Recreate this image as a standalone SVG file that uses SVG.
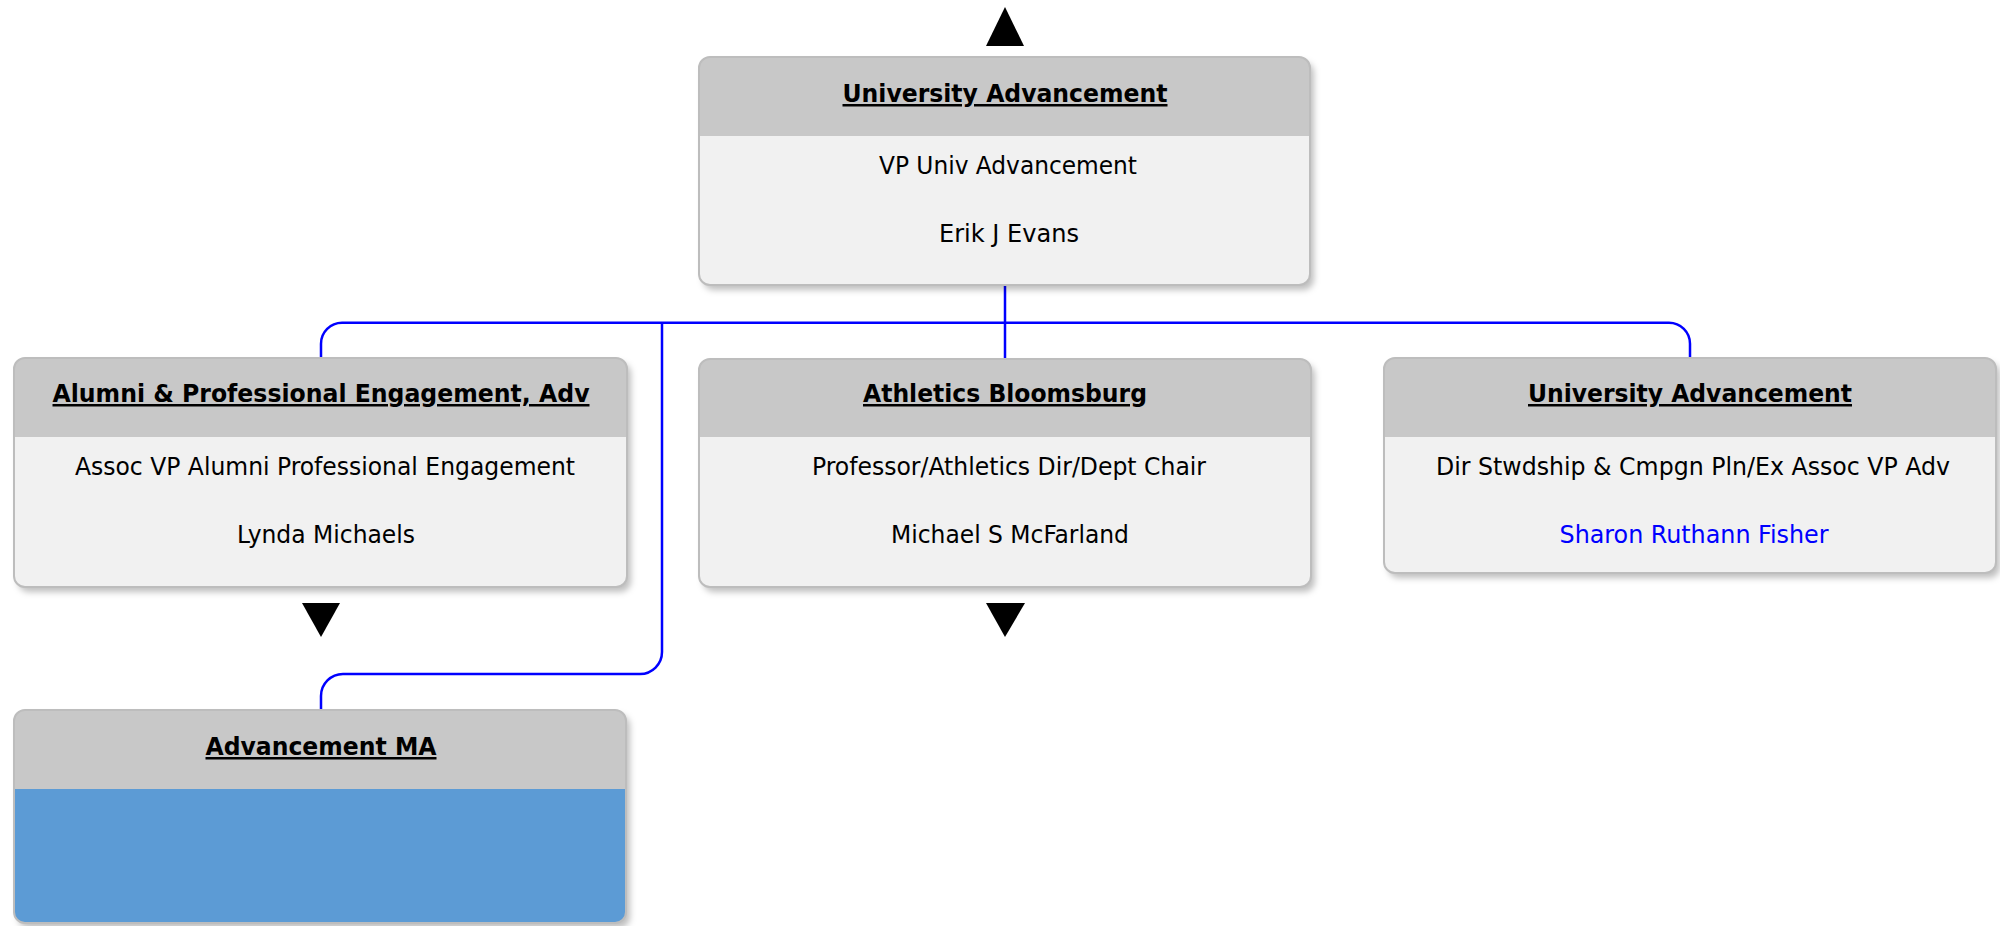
<svg xmlns="http://www.w3.org/2000/svg" width="2000" height="926" viewBox="0 0 2000 926">
<style>
.body{fill:#F1F1F1}
.head{fill:#C8C8C8}
.frame{fill:none;stroke:#BDBDBD;stroke-width:2}
.title{font-family:"DejaVu Sans Condensed","DejaVu Sans",sans-serif;font-weight:bold;font-size:25px;fill:#000;text-anchor:middle;text-decoration:underline}
.txt{font-family:"DejaVu Sans Condensed","DejaVu Sans",sans-serif;font-size:25px;fill:#000;text-anchor:middle}
.link{fill:#0000FF}
.conn{fill:none;stroke:#0000FF;stroke-width:2.5}
.arrow{fill:#000}
</style>
<defs>
<filter id="sh" x="-5%" y="-5%" width="115%" height="120%">
<feDropShadow dx="4" dy="5" stdDeviation="3" flood-color="#000" flood-opacity="0.25"/>
</filter>
</defs>
<g id="connectors">
<path class="conn" d="M1005,286 V359"/>
<path class="conn" d="M1005,322.7 H342 A21,21 0 0 0 321,343.7 V358"/>
<path class="conn" d="M1005,322.7 H1669 A21,21 0 0 1 1690,343.7 V358"/>
<path class="conn" d="M662,322.7 V652 A22,22 0 0 1 640,674 H343 A22,22 0 0 0 321,696 V710"/>
</g>
<g id="arrow-up"><polygon class="arrow" points="1005,7 986,46 1024,46"/></g>
<g id="node-top">
<rect x="699" y="57" width="611" height="228" rx="11" class="body" filter="url(#sh)"/>
<path class="head" d="M699,136 V68 A11,11 0 0 1 710,57 H1299 A11,11 0 0 1 1310,68 V136 Z"/>
<rect x="699" y="57" width="611" height="228" rx="11" class="frame"/>
<text class="title" x="1005" y="102" textLength="325" lengthAdjust="spacingAndGlyphs">University Advancement</text>
<text class="txt" x="1008" y="174" textLength="258" lengthAdjust="spacingAndGlyphs">VP Univ Advancement</text>
<text class="txt" x="1009" y="242" textLength="140" lengthAdjust="spacingAndGlyphs">Erik J Evans</text>
</g>
<g id="node-alumni">
<rect x="14" y="358" width="613" height="229" rx="11" class="body" filter="url(#sh)"/>
<path class="head" d="M14,437 V369 A11,11 0 0 1 25,358 H616 A11,11 0 0 1 627,369 V437 Z"/>
<rect x="14" y="358" width="613" height="229" rx="11" class="frame"/>
<text class="title" x="321" y="402" textLength="537" lengthAdjust="spacingAndGlyphs">Alumni &amp; Professional Engagement, Adv</text>
<text class="txt" x="325" y="475" textLength="500" lengthAdjust="spacingAndGlyphs">Assoc VP Alumni Professional Engagement</text>
<text class="txt" x="326" y="543" textLength="178" lengthAdjust="spacingAndGlyphs">Lynda Michaels</text>
</g>
<g id="arrow-alumni"><polygon class="arrow" points="302,603 340,603 321,637"/></g>
<g id="node-athletics">
<rect x="699" y="359" width="612" height="228" rx="11" class="body" filter="url(#sh)"/>
<path class="head" d="M699,437 V370 A11,11 0 0 1 710,359 H1300 A11,11 0 0 1 1311,370 V437 Z"/>
<rect x="699" y="359" width="612" height="228" rx="11" class="frame"/>
<text class="title" x="1005" y="402" textLength="284" lengthAdjust="spacingAndGlyphs">Athletics Bloomsburg</text>
<text class="txt" x="1009" y="475" textLength="394" lengthAdjust="spacingAndGlyphs">Professor/Athletics Dir/Dept Chair</text>
<text class="txt" x="1010" y="543" textLength="238" lengthAdjust="spacingAndGlyphs">Michael S McFarland</text>
</g>
<g id="arrow-athletics"><polygon class="arrow" points="986,603 1025,603 1005,637"/></g>
<g id="node-univadv">
<rect x="1384" y="358" width="612" height="215" rx="11" class="body" filter="url(#sh)"/>
<path class="head" d="M1384,437 V369 A11,11 0 0 1 1395,358 H1985 A11,11 0 0 1 1996,369 V437 Z"/>
<rect x="1384" y="358" width="612" height="215" rx="11" class="frame"/>
<text class="title" x="1690" y="402" textLength="324" lengthAdjust="spacingAndGlyphs">University Advancement</text>
<text class="txt" x="1693" y="475" textLength="514" lengthAdjust="spacingAndGlyphs">Dir Stwdship &amp; Cmpgn Pln/Ex Assoc VP Adv</text>
<text class="txt link" x="1694" y="543" textLength="269" lengthAdjust="spacingAndGlyphs">Sharon Ruthann Fisher</text>
</g>
<g id="node-advma">
<rect x="14" y="710" width="612" height="213" rx="11" fill="#5B9BD5" filter="url(#sh)"/>
<path class="head" d="M14,789 V721 A11,11 0 0 1 25,710 H615 A11,11 0 0 1 626,721 V789 Z"/>
<rect x="14" y="710" width="612" height="213" rx="11" class="frame"/>
<text class="title" x="321" y="755" textLength="231" lengthAdjust="spacingAndGlyphs">Advancement MA</text>
</g>
</svg>
